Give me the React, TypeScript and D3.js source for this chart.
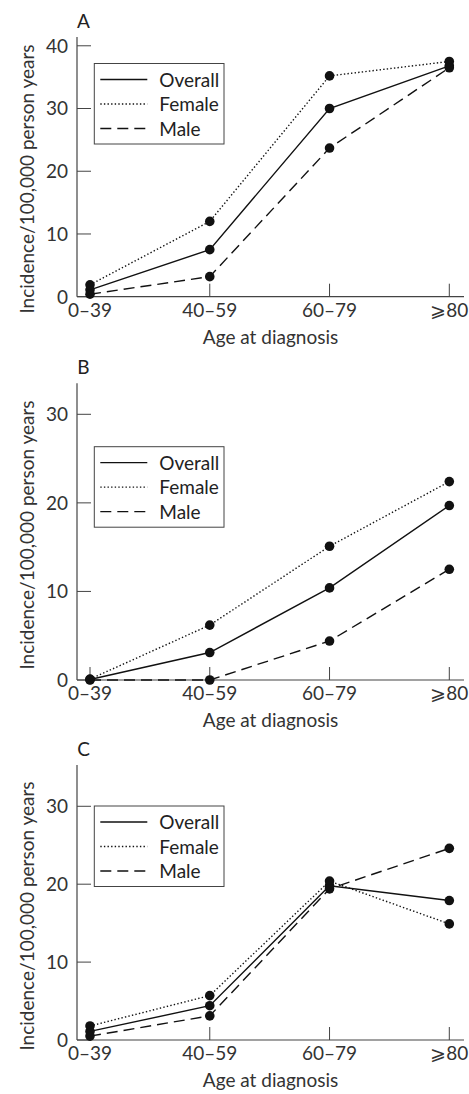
import React from "react";
import { scaleLinear, scalePoint, line } from "d3";

const width = 469;
const height = 1094;

// Data
const ageGroups = ["0–39", "40–59", "60–79", "⩾80"];
const seriesNames = ["Overall", "Female", "Male"];

const overallA = [1.1, 7.5, 30.0, 36.8];
const femaleA = [1.9, 12.0, 35.2, 37.5];
const maleA = [0.4, 3.2, 23.7, 36.5];

const overallB = [0.05, 3.1, 10.4, 19.7];
const femaleB = [0.1, 6.2, 15.1, 22.4];
const maleB = [0, 0, 4.4, 12.5];

const overallC = [1.1, 4.4, 19.8, 17.9];
const femaleC = [1.8, 5.7, 20.4, 14.9];
const maleC = [0.5, 3.1, 19.4, 24.6];

const ticksA = [0, 10, 20, 30, 40];
const ticksBC = [0, 10, 20, 30];

const dashes = ["none", "1.4 2.2", "11 6"];

const font = "Lato, 'Open Sans', sans-serif";
const fs = 19;
const axisColor = "#444";
const markColor = "#111";

const axisLeftX = 77;
const axisRightX = 464;

const panels = [
  { label: "A", series: [overallA, femaleA, maleA], ticks: ticksA, yMax: 41.4, top: 37, bottom: 296.7, legendTop: 63.5, titleCenter: 179 },
  { label: "B", series: [overallB, femaleB, maleB], ticks: ticksBC, yMax: 33.5, top: 383.3, bottom: 680, legendTop: 446.7, titleCenter: 535 },
  { label: "C", series: [overallC, femaleC, maleC], ticks: ticksBC, yMax: 35.3, top: 765, bottom: 1040, legendTop: 806, titleCenter: 916 },
];

const xScale = scalePoint<string>().domain(ageGroups).range([90, 449.3]);

const Panel = ({ p }: { p: (typeof panels)[number] }) => {
  const yScale = scaleLinear().domain([0, p.yMax]).range([p.bottom, p.top]);
  const lineGen = line<number>()
    .x((_, i) => xScale(ageGroups[i]) as number)
    .y((d) => yScale(d));

  return (
    <g>
      {/* panel letter */}
      <text x={83.5} y={p.top - 9} fontSize={fs} textAnchor="middle" fill="#222" fontFamily={font}>
        {p.label}
      </text>

      {/* y axis */}
      <line x1={axisLeftX} x2={axisLeftX} y1={p.top} y2={p.bottom} stroke={axisColor} strokeWidth={1.2} />
      {p.ticks.map((t) => (
        <g key={t}>
          <line x1={axisLeftX} x2={axisLeftX + 14} y1={yScale(t)} y2={yScale(t)} stroke={axisColor} strokeWidth={1} />
          <text x={68} y={yScale(t)} dy="0.36em" fontSize={fs} textAnchor="end" fill="#333" fontFamily={font}>
            {t}
          </text>
        </g>
      ))}
      <text
        transform={`translate(27,${p.titleCenter}) rotate(-90)`}
        dy="0.36em"
        fontSize={fs}
        textAnchor="middle"
        fill="#333"
        fontFamily={font}
      >
        Incidence/100,000 person years
      </text>

      {/* x axis */}
      <line x1={axisLeftX} x2={axisRightX} y1={p.bottom} y2={p.bottom} stroke={axisColor} strokeWidth={1.2} />
      {ageGroups.map((g) => (
        <g key={g}>
          <line x1={xScale(g)} x2={xScale(g)} y1={p.bottom} y2={p.bottom - 13} stroke={axisColor} strokeWidth={1} />
          <text x={xScale(g)} y={p.bottom + 20} fontSize={fs} textAnchor="middle" fill="#333" fontFamily={font}>
            {g}
          </text>
        </g>
      ))}
      <text x={(axisLeftX + axisRightX) / 2} y={p.bottom + 47} fontSize={fs} textAnchor="middle" fill="#333" fontFamily={font}>
        Age at diagnosis
      </text>

      {/* lines */}
      {p.series.map((s, i) => (
        <path key={i} d={lineGen(s) || ""} fill="none" stroke={markColor} strokeWidth={1.4} strokeDasharray={dashes[i]} />
      ))}
      {p.series.map((s, i) =>
        s.map((v, j) => <circle key={`${i}-${j}`} cx={xScale(ageGroups[j])} cy={yScale(v)} r={4.8} fill={markColor} />)
      )}

      {/* legend */}
      <g transform={`translate(94.3,${p.legendTop})`}>
        <rect x={0} y={0} width={129.7} height={80.5} fill="#fff" stroke={axisColor} strokeWidth={1} />
        {seriesNames.map((n, i) => (
          <g key={n} transform={`translate(0,${16 + i * 24.5})`}>
            <line x1={6} x2={53} y1={0} y2={0} stroke={markColor} strokeWidth={1.3} strokeDasharray={dashes[i]} />
            <text x={65} y={7} fontSize={fs} fill="#222" fontFamily={font}>
              {n}
            </text>
          </g>
        ))}
      </g>
    </g>
  );
};

export default function App() {
  return (
    <svg width={width} height={height} style={{ position: "absolute", left: 0, top: 0, background: "#fff" }}>
      <rect width={width} height={height} fill="#fff" />
      {panels.map((p) => (
        <Panel key={p.label} p={p} />
      ))}
    </svg>
  );
}
